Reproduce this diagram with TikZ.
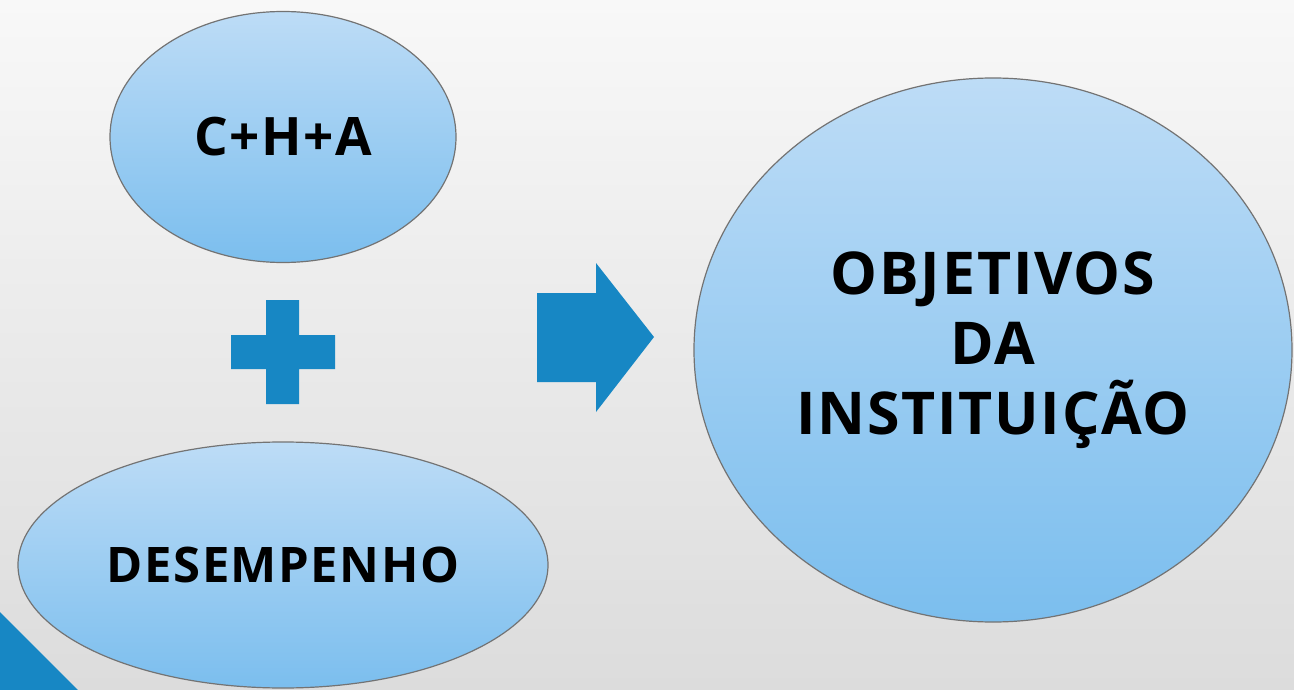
\documentclass[tikz,border=0pt]{standalone}
\usepackage{fontspec}
\setmainfont{Open Sans}
\newfontfamily\spacedfont[LetterSpace=3]{Open Sans}
\usetikzlibrary{shapes.geometric}
\definecolor{bgtop}{HTML}{F8F8F8}
\definecolor{bgbot}{HTML}{DCDCDC}
\definecolor{bubtop}{HTML}{BDDCF6}
\definecolor{bubbot}{HTML}{7BBEEE}
\definecolor{mark}{HTML}{1787C4}
\tikzstyle{bubble} = [ellipse, inner sep=0pt, outer sep=0pt, draw=black!55, line width=1.2pt, top color=bubtop, bottom color=bubbot, text=black, align=center]
\tikzstyle{blockshape} = [fill=mark, draw=none]

\begin{document}
\begin{tikzpicture}[x=1pt,y=-1pt]
\shade[top color=bgtop, bottom color=bgbot] (0,0) rectangle (1294,690);
\useasboundingbox (0,0) rectangle (1294,690);
\node[bubble, minimum width=346pt, minimum height=251pt, font=\spacedfont\fontsize{53}{60}\selectfont\bfseries] (cha) at (283,137) {C+H+A};
\node[bubble, minimum width=530pt, minimum height=246pt, font=\spacedfont\fontsize{49}{60}\selectfont\bfseries] (desempenho) at (283,565) {DESEMPENHO};
\node[bubble, minimum width=598pt, minimum height=544pt, font=\spacedfont\fontsize{59}{70}\selectfont\bfseries] (objetivos) at (993,350) {OBJETIVOS\\DA\\INSTITUIÇÃO};
% plus sign
\fill[blockshape] (266,300) -- (299,300) -- (299,335) -- (335,335) -- (335,369) -- (299,369) -- (299,404) -- (266,404) -- (266,369) -- (231,369) -- (231,335) -- (266,335) -- cycle;
% arrow
\fill[blockshape] (537,293) -- (596,293) -- (596,263) -- (654,337) -- (596,412) -- (596,382) -- (537,382) -- cycle;
% corner
\fill[blockshape] (0,612) -- (79,691) -- (0,691) -- cycle;
\end{tikzpicture}
\end{document}
